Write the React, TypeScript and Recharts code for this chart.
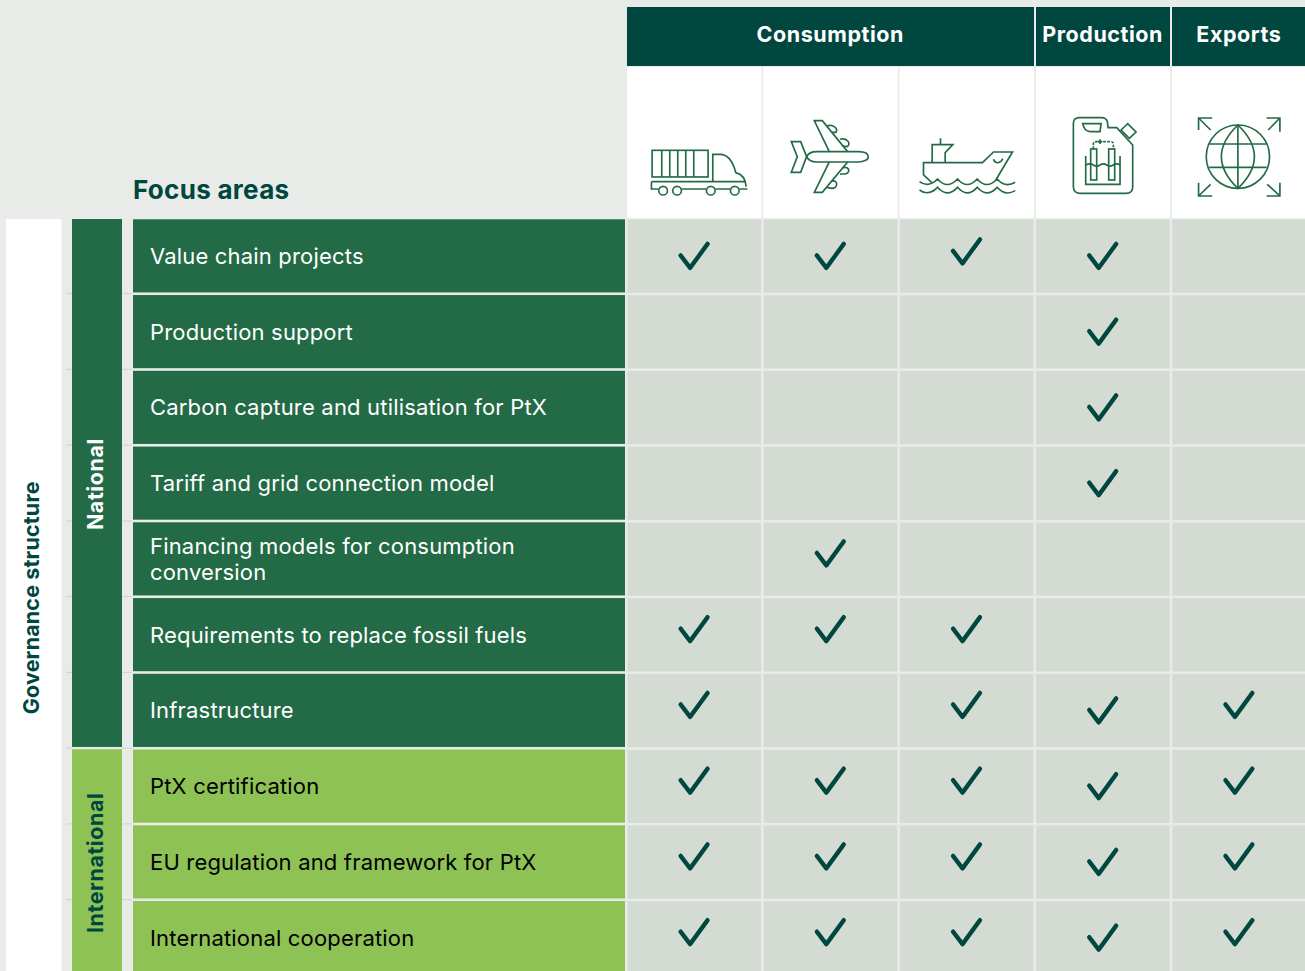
import React from "react";
import { ScatterChart, Scatter, XAxis, YAxis } from "recharts";

const columns = ["Trucks", "Aviation", "Shipping", "Electrolysis", "Global"];
const columnGroups = ["Consumption", "Consumption", "Consumption", "Production", "Exports"];

const focusAreas = [
  "Value chain projects",
  "Production support",
  "Carbon capture and utilisation for PtX",
  "Tariff and grid connection model",
  "Financing models for consumption conversion",
  "Requirements to replace fossil fuels",
  "Infrastructure",
  "PtX certification",
  "EU regulation and framework for PtX",
  "International cooperation",
];
const focusScopes = [
  "National", "National", "National", "National", "National", "National", "National",
  "International", "International", "International",
];

// one flag per focus area, same order as focusAreas
const trucksChecks = [1, 0, 0, 0, 0, 1, 1, 1, 1, 1];
const aviationChecks = [1, 0, 0, 0, 1, 1, 0, 1, 1, 1];
const shippingChecks = [1, 0, 0, 0, 0, 1, 1, 1, 1, 1];
const productionChecks = [1, 1, 1, 1, 0, 0, 1, 1, 1, 1];
const exportsChecks = [0, 0, 0, 0, 0, 0, 1, 1, 1, 1];
const checksByColumn = [trucksChecks, aviationChecks, shippingChecks, productionChecks, exportsChecks];

const allCells = focusAreas.flatMap((row, r) =>
  columns.map((column, c) => ({ row, column, r, c, checked: checksByColumn[c][r] === 1 }))
);
const checkedCells = allCells.filter((cell) => cell.checked);

const WIDTH = 1308;
const HEIGHT = 977;
const COL_PITCH = 136.2;
const ROW_PITCH = 75.75;
const GAP = 2.6;
const FONT = "Inter, 'Noto Sans', sans-serif";

const C = {
  page: "#e9ebe8",
  header: "#004740",
  national: "#236a47",
  international: "#8ec255",
  cell: "#d4dbd3",
  hairline: "#c8d8cc",
  icon: "#236a47",
};

function CellShape({ cx, cy }: any) {
  return (
    <rect
      x={cx - COL_PITCH / 2 + 0.5}
      y={cy - ROW_PITCH / 2 + 0.5}
      width={COL_PITCH - GAP}
      height={ROW_PITCH - GAP}
      fill={C.cell}
    />
  );
}

function CheckShape({ cx, cy, payload }: any) {
  // the source artwork sits its ticks a little high outside the production column
  let lift = 0.5;
  if (payload.c !== 3 && payload.r >= 4) lift = 6;
  if (payload.c === 2 && payload.r === 0) lift = 5;
  const x = cx - 1;
  const y = cy - lift;
  return (
    <path
      d={`M${x - 13.5} ${y - 1} L${x - 4} ${y + 11.5} L${x + 13.5} ${y - 12.5}`}
      fill="none"
      stroke={C.header}
      strokeWidth={4.3}
      strokeLinecap="round"
      strokeLinejoin="round"
    />
  );
}

function TruckIcon() {
  return (
    <g>
      <rect x={96} y={451} width={168} height={80} />
      <path d="M125 451V531M149 451V531M173 451V531M197 451V531M221 451V531" />
      <path d="M278 545V463H300C325 463 340 490 347 518C365 522 376 535 378 560" />
      <path d="M94 545H376M94 545V567H115M185 567H258M286 567H330M358 567H382" />
      <circle cx={129} cy={572} r={13} />
      <circle cx={171} cy={572} r={13} />
      <circle cx={272} cy={572} r={13} />
      <circle cx={344} cy={572} r={13} />
    </g>
  );
}

function PlaneIcon() {
  return (
    <g>
      <path d="M560 470C565 460 575 455 590 455H715C735 455 745 462 745 471C745 480 730 486 715 486H590C575 486 565 480 560 470Z" />
      <path d="M560 470L542 425H514L532 470L514 517H542Z" />
      <path d="M628 455L583 362H607L683 455M628 486L583 577H607L683 486" />
      <path d="M620 378C640 372 655 385 648 397H636M660 418C680 412 695 430 682 440L668 438" />
      <path d="M668 503C690 498 692 520 675 522H660M636 543C655 540 655 565 635 565L620 562" />
    </g>
  );
}

function ShipIcon() {
  return (
    <g>
      <path d="M935 548L910 525V488H1087L1120 456H1177L1127 540" />
      <path d="M1120 478C1124 492 1140 492 1148 476" />
      <path d="M936 488V434H998L975 458V488M961 434V415" />
      <path d="M898 545Q925 565 952 537Q981 570 1012 537Q1041 570 1071 537Q1100 570 1131 537Q1155 565 1185 547" />
      <path d="M898 570Q925 590 952 562Q981 595 1012 562Q1041 595 1071 562Q1100 595 1131 562Q1155 590 1185 572" />
    </g>
  );
}

function CanisterIcon() {
  return (
    <g>
      <path d="M340 370Q340 353 358 353H425Q438 353 442 365L444 383H470L518 435V560Q518 580 498 580H362Q340 580 340 560Z" />
      <path d="M368 371H423L420 395H390Q372 393 368 371Z" />
      <path d="M483 390L503 371L528 396L508 415Z" />
      <path d="M377 468V553H480V468" />
      <rect x={392} y={447} width={18} height={93} />
      <rect x={446} y={447} width={18} height={93} />
      <path d="M377 495Q390 488 400 495T420 495T440 495T460 495T480 495" />
      <path d="M400 447V432Q400 425 410 425H450Q460 425 460 432V447" strokeDasharray="8 4" />
      <path d="M413 425H427M420 418V432" />
    </g>
  );
}

function GlobeIcon() {
  return (
    <g>
      <circle cx={834} cy={470} r={95} />
      <path d="M834 375Q735 470 834 565Q933 470 834 375Z" />
      <path d="M834 375V565M748 432H920M748 502H920" />
      <path d="M716 390V354H757M716 354L752 390M920 354H960V395M960 354L925 390" />
      <path d="M716 548V588H757M716 588L752 553M960 548V588H920M960 588L922 553" />
    </g>
  );
}

// icons are traced at 3x; the number is each icon's column centre in that traced space
const columnIcons = [
  { Icon: TruckIcon, centre: 225 },
  { Icon: PlaneIcon, centre: 634 },
  { Icon: ShipIcon, centre: 1042 },
  { Icon: CanisterIcon, centre: 431 },
  { Icon: GlobeIcon, centre: 840 },
];

function ColumnTick({ x, payload }: any) {
  const c = columns.indexOf(payload.value);
  const left = x - COL_PITCH / 2 + 0.5;
  const group = columnGroups[c];
  const joinsNext = columnGroups[c + 1] === group;
  const isLast = !joinsNext;
  const span = columnGroups.filter((g) => g === group).length;
  const { Icon, centre } = columnIcons[c];
  return (
    <g>
      <rect x={left} y={7.5} width={joinsNext ? COL_PITCH : COL_PITCH - GAP} height={58.5} fill={C.header} />
      <rect x={left} y={67.5} width={COL_PITCH - GAP} height={150} fill="#ffffff" />
      <g
        transform={`translate(${x} 0) scale(0.3333) translate(${-centre} 0)`}
        fill="none"
        stroke={C.icon}
        strokeWidth={5}
      >
        <Icon />
      </g>
      {isLast && (
        <text
          x={x - ((span - 1) * COL_PITCH) / 2 - 1}
          y={34}
          textAnchor="middle"
          dominantBaseline="central"
          fontFamily={FONT}
          fontSize={21.5}
          fontWeight={700}
          letterSpacing={0.55}
          fill="#ffffff"
        >
          {group}
        </text>
      )}
    </g>
  );
}

function wrapLabel(label: string) {
  if (label.length <= 40) return [label];
  const cut = label.lastIndexOf(" ");
  return [label.slice(0, cut), label.slice(cut + 1)];
}

function RotatedLabel({ x, y, fill, spacing, children }: any) {
  return (
    <text
      x={x}
      y={y}
      transform={`rotate(-90 ${x} ${y})`}
      textAnchor="middle"
      dominantBaseline="central"
      fontFamily={FONT}
      fontSize={21.5}
      fontWeight={700}
      letterSpacing={spacing}
      fill={fill}
    >
      {children}
    </text>
  );
}

function RowTick({ y, payload }: any) {
  const r = focusAreas.indexOf(payload.value);
  const scope = focusScopes[r];
  const isNational = scope === "National";
  const top = y - ROW_PITCH / 2 + 0.3;
  const height = ROW_PITCH - GAP;
  const lines = wrapLabel(payload.value);
  const isLastOfScope = focusScopes[r + 1] !== scope;
  const scopeSize = focusScopes.filter((s) => s === scope).length;
  const isLastRow = r === focusAreas.length - 1;
  return (
    <g>
      <rect x={6} y={top - 0.3} width={55.5} height={ROW_PITCH + 1} fill="#ffffff" />
      <rect
        x={72}
        y={top - 0.3}
        width={50}
        height={isLastOfScope ? height + 0.3 : ROW_PITCH + 1}
        fill={isNational ? C.national : C.international}
      />
      <path
        d={`M66 ${top + height + 1.2}H72M122 ${top + height + 1.2}H132`}
        stroke={C.hairline}
        strokeWidth={1}
      />
      <rect x={133} y={top} width={492} height={height} fill={isNational ? C.national : C.international} />
      <text
        y={y}
        fontFamily={FONT}
        fontSize={22}
        fontWeight={400}
        letterSpacing={0.18}
        fill={isNational ? "#ffffff" : "#000000"}
      >
        {lines.map((line, i) => (
          <tspan key={line} x={150} dy={i === 0 ? (lines.length - 1) * -13 + 7 : 26}>
            {line}
          </tspan>
        ))}
      </text>
      {isLastOfScope && (
        <RotatedLabel
          x={95}
          y={y - ((scopeSize - 1) * ROW_PITCH) / 2}
          fill={isNational ? "#ffffff" : C.header}
          spacing={0.55}
        >
          {scope}
        </RotatedLabel>
      )}
      {isLastRow && (
        <RotatedLabel
          x={31}
          y={y - ((focusAreas.length - 1) * ROW_PITCH) / 2}
          fill={C.header}
          spacing={0.15}
        >
          Governance structure
        </RotatedLabel>
      )}
    </g>
  );
}

export default function App() {
  return (
    <div
      style={{
        position: "absolute",
        left: 0,
        top: 0,
        width: 1305,
        height: 971,
        overflow: "hidden",
        background: C.page,
      }}
    >
      <ScatterChart width={WIDTH} height={HEIGHT} margin={{ top: 67, right: 0, bottom: 0.5, left: 0 }}>
        <XAxis
          xAxisId="columns"
          type="category"
          dataKey="column"
          scale="band"
          orientation="top"
          height={152}
          allowDuplicatedCategory={false}
          interval={0}
          axisLine={false}
          tickLine={false}
          tickSize={0}
          tickMargin={0}
          tick={(props: any) => <ColumnTick {...props} />}
        />
        <YAxis
          yAxisId="rows"
          type="category"
          dataKey="row"
          scale="band"
          reversed
          width={627}
          allowDuplicatedCategory={false}
          interval={0}
          axisLine={false}
          tickLine={false}
          tickSize={0}
          tickMargin={0}
          tick={(props: any) => <RowTick {...props} />}
        />
        <Scatter
          xAxisId="columns"
          yAxisId="rows"
          data={allCells}
          isAnimationActive={false}
          shape={(props: any) => <CellShape {...props} />}
        />
        <Scatter
          xAxisId="columns"
          yAxisId="rows"
          data={checkedCells}
          isAnimationActive={false}
          shape={(props: any) => <CheckShape {...props} />}
        />
        <text x={133} y={199} fontFamily={FONT} fontSize={26} fontWeight={700} letterSpacing={0.3} fill={C.header}>
          Focus areas
        </text>
      </ScatterChart>
    </div>
  );
}
